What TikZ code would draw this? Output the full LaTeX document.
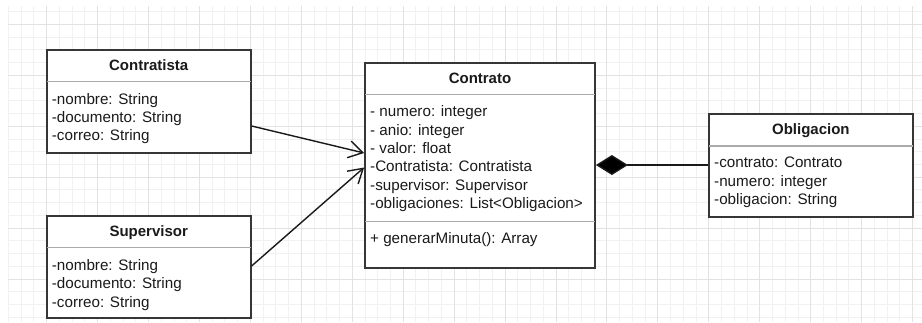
\documentclass[tikz,border=0pt]{standalone}
\usepackage{fontspec}
\setmainfont{Liberation Sans}
\usetikzlibrary{arrows.meta}
\definecolor{gridminor}{HTML}{F1F1F1}
\definecolor{gridmajor}{HTML}{E2E2E2}
\definecolor{boxline}{HTML}{363636}
\definecolor{sepgray}{HTML}{ABABAB}
\definecolor{ink}{HTML}{1A1A1A}

\begin{document}
\begin{tikzpicture}[x=1pt,y=-1pt,
  classbox/.style={draw=boxline, line width=1.8pt, fill=white, rectangle, inner sep=0pt},
  compline/.style={draw=sepgray, line width=1.2pt, shorten <=0.9pt, shorten >=0.9pt},
  classname/.style={anchor=base, inner sep=0pt, font=\fontsize{15}{18}\selectfont\bfseries, text=ink},
  member/.style={anchor=base west, inner sep=0pt, font=\fontsize{15.2}{18.3}\selectfont, text=ink},
  assoc/.style={draw=ink, line width=1.4pt, -{Straight Barb[length=14pt,width=17pt]}},
  compose/.style={draw=ink, line width=1.4pt, -{Diamond[length=32pt,width=20pt,fill=black]}},
]
\useasboundingbox (0,0) rectangle (922,322);
\fill[white] (0,0) rectangle (922,322);

% background grid: minor lines first, then every fourth line darker
\foreach \i in {0,...,71}{
  \pgfmathsetmacro\gx{8.45+12.735*\i}
  \draw[gridminor, line width=1pt] (\gx,6) -- (\gx,322);
}
\foreach \j in {0,...,24}{
  \pgfmathsetmacro\gy{11.7+12.735*\j}
  \draw[gridminor, line width=1pt] (8,\gy) -- (922,\gy);
}
\foreach \i in {3,7,...,71}{
  \pgfmathsetmacro\gx{8.45+12.735*\i}
  \draw[gridmajor, line width=1pt] (\gx,6) -- (\gx,322);
}
\foreach \j in {1,5,...,21}{
  \pgfmathsetmacro\gy{11.7+12.735*\j}
  \draw[gridmajor, line width=1pt] (8,\gy) -- (922,\gy);
}

% class Contratista
\node[classbox, minimum width=204pt, minimum height=102.7pt] (contratista) at (148.7,101.35) {};
\draw[compline] (contratista.west |- 0,81.7) -- (contratista.east |- 0,81.7);
\node[classname] (contratista-name) at (148.7,70) {Contratista};
\node[member] (contratista-a1) at (51.7,104) {-nombre: String};
\node[member] (contratista-a2) at (51.7,122.3) {-documento: String};
\node[member] (contratista-a3) at (51.7,140.6) {-correo: String};

% class Supervisor
\node[classbox, minimum width=204pt, minimum height=101.7pt] (supervisor) at (148.7,266.85) {};
\draw[compline] (supervisor.west |- 0,247.7) -- (supervisor.east |- 0,247.7);
\node[classname] (supervisor-name) at (148.7,236) {Supervisor};
\node[member] (supervisor-a1) at (51.7,270.5) {-nombre: String};
\node[member] (supervisor-a2) at (51.7,288.8) {-documento: String};
\node[member] (supervisor-a3) at (51.7,307.1) {-correo: String};

% class Contrato
\node[classbox, minimum width=230pt, minimum height=205pt] (contrato) at (480,165.8) {};
\draw[compline] (contrato.west |- 0,94.5) -- (contrato.east |- 0,94.5);
\draw[compline] (contrato.west |- 0,221.7) -- (contrato.east |- 0,221.7);
\node[classname] (contrato-name) at (480,83) {Contrato};
\node[member] (contrato-a1) at (370,116.8) {- numero: integer};
\node[member] (contrato-a2) at (370,135.1) {- anio: integer};
\node[member] (contrato-a3) at (370,153.4) {- valor: float};
\node[member] (contrato-a4) at (370,171.7) {-Contratista: Contratista};
\node[member] (contrato-a5) at (370,190) {-supervisor: Supervisor};
\node[member] (contrato-a6) at (370,208.3) {-obligaciones: List<Obligacion>};
\node[member] (contrato-m1) at (370,243.5) {+ generarMinuta(): Array};

% class Obligacion
\node[classbox, minimum width=203.7pt, minimum height=102.4pt] (obligacion) at (810.85,165.5) {};
\draw[compline] (obligacion.west |- 0,145.9) -- (obligacion.east |- 0,145.9);
\node[classname] (obligacion-name) at (810.85,134) {Obligacion};
\node[member] (obligacion-a1) at (714,167.8) {-contrato: Contrato};
\node[member] (obligacion-a2) at (714,186.1) {-numero: integer};
\node[member] (obligacion-a3) at (714,204.4) {-obligacion: String};

% relations
\draw[assoc] (contratista.east |- 0,126) -- (contrato.west |- 0,153);
\draw[assoc] (supervisor.east |- 0,266) -- (contrato.west |- 0,167.5);
\draw[compose] (obligacion.west |- 0,165) -- (contrato.east |- 0,165);
\end{tikzpicture}
\end{document}
